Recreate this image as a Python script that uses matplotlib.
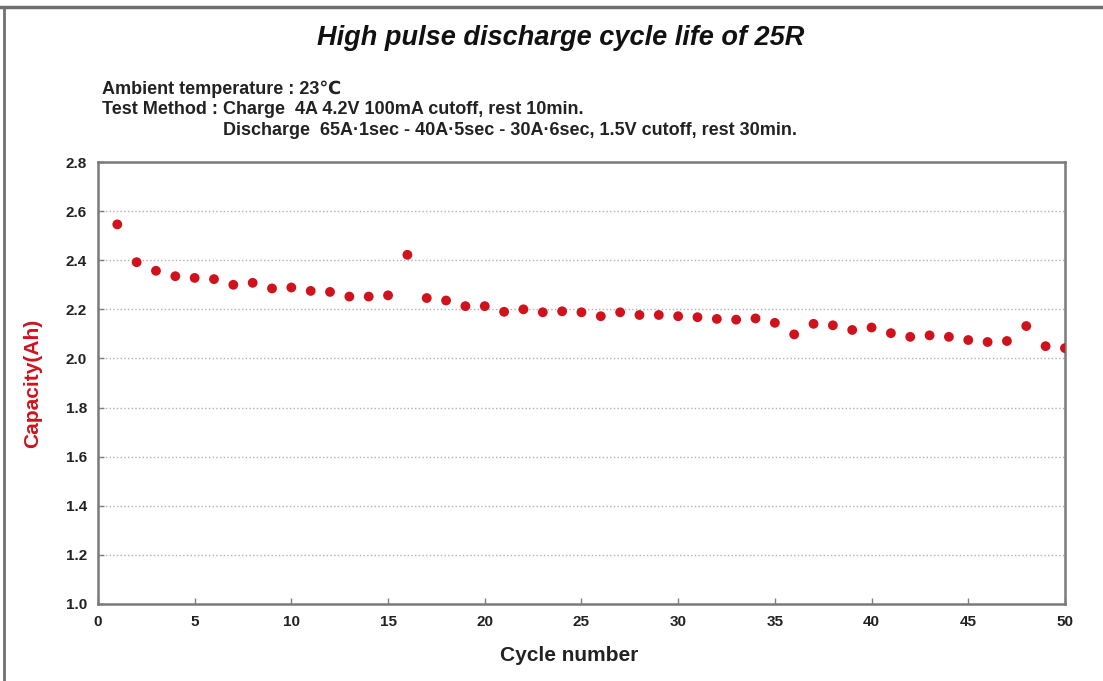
import numpy as np
import matplotlib
matplotlib.use('Agg')
import matplotlib.pyplot as plt
from matplotlib.lines import Line2D

plt.rcParams['font.family'] = ['Liberation Sans', 'DejaVu Sans']

# data
cycles = np.arange(1, 51)
capacity = [2.546, 2.392, 2.357, 2.335, 2.328, 2.323, 2.300, 2.308, 2.285, 2.289,
            2.275, 2.271, 2.252, 2.252, 2.257, 2.422, 2.246, 2.236, 2.213, 2.213,
            2.190, 2.200, 2.188, 2.192, 2.188, 2.172, 2.188, 2.177, 2.177, 2.172,
            2.168, 2.161, 2.158, 2.163, 2.145, 2.098, 2.141, 2.135, 2.116, 2.126,
            2.103, 2.088, 2.094, 2.088, 2.075, 2.067, 2.071, 2.132, 2.050, 2.042]
x_ticks = [0, 5, 10, 15, 20, 25, 30, 35, 40, 45, 50]
y_ticks = [1.0, 1.2, 1.4, 1.6, 1.8, 2.0, 2.2, 2.4, 2.6, 2.8]

title = 'High pulse discharge cycle life of 25R'
notes = ['Ambient temperature : 23\u2103',
         'Test Method : Charge  4A 4.2V 100mA cutoff, rest 10min.',
         'Discharge  65A\u00b71sec - 40A\u00b75sec - 30A\u00b76sec, 1.5V cutoff, rest 30min.']

fig = plt.figure(figsize=(11.03, 6.81), dpi=100)
ax = fig.add_axes([0.0888, 0.1131, 0.8767, 0.649])

ax.scatter(cycles, capacity, s=50, color='#d0121c', zorder=3, edgecolors='none')

ax.set_xlim(0, 50)
ax.set_ylim(1.0, 2.8)
ax.set_xticks(x_ticks)
ax.set_yticks(y_ticks)
ax.set_yticklabels([f'{v:.1f}' for v in y_ticks])
ax.tick_params(direction='in', length=4, width=1, color='#808080', labelsize=11,
               pad=8)
for lab in ax.get_xticklabels() + ax.get_yticklabels():
    lab.set_fontweight('bold')
    lab.set_color('#222222')
ax.yaxis.grid(True, linestyle=':', color='#b0b0b0', linewidth=1)
for sp in ax.spines.values():
    sp.set_color('#7a7a7a')
    sp.set_linewidth(1.8)

ax.set_xlabel('Cycle number', fontsize=15, fontweight='bold', color='#222222')
ax.xaxis.set_label_coords(0.487, -0.095)
ax.set_ylabel('Capacity(Ah)', fontsize=15, fontweight='bold', color='#d0121c')
ax.yaxis.set_label_coords(-0.058, 0.5)

fig.text(0.508, 0.944, title, ha='center', va='center', fontsize=19.5,
         fontweight='bold', style='italic', color='#111111')
fig.text(0.0925, 0.869, notes[0], ha='left', va='center', fontsize=13, fontweight='bold', color='#222222')
fig.text(0.0925, 0.839, notes[1], ha='left', va='center', fontsize=13, fontweight='bold', color='#222222')
fig.text(0.202, 0.808, notes[2], ha='left', va='center', fontsize=13, fontweight='bold', color='#222222')

# outer frame lines (top and left)
fig.add_artist(Line2D([0, 1], [0.989, 0.989], color='#707070', linewidth=2.5,
                      transform=fig.transFigure))
fig.add_artist(Line2D([0.004, 0.004], [0, 0.989], color='#707070', linewidth=2,
                      transform=fig.transFigure))

fig.savefig('out.png', dpi=100)
